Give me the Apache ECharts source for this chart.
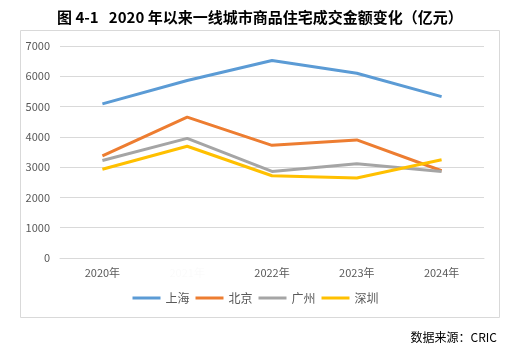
<!DOCTYPE html>
<html>
<head>
<meta charset="utf-8">
<script src="https://cdn.jsdelivr.net/npm/echarts@6/dist/echarts.min.js"></script>
<style>
  html, body { margin: 0; padding: 0; background: #fff; }
  #main { width: 511px; height: 354px; }
</style>
</head>
<body>
<div id="main"></div>
<script>
// 数据
const years = ["2020年", "2021年", "2022年", "2023年", "2024年"];
const shanghai = [5090, 5860, 6520, 6100, 5330];
const beijing = [3370, 4650, 3720, 3900, 2880];
const guangzhou = [3220, 3950, 2860, 3110, 2860];
const shenzhen = [2930, 3690, 2715, 2640, 3245];
const yTicks = [0, 1000, 2000, 3000, 4000, 5000, 6000, 7000];

const chart = echarts.init(document.getElementById("main"));
const font = "'Noto Sans CJK SC', 'Microsoft YaHei', sans-serif";

const mkLine = (name, data, color) => ({
  name,
  type: "line",
  data,
  symbol: "none",
  lineStyle: { width: 3, color },
  itemStyle: { color },
});

chart.setOption({
  animation: false,
  title: {
    text: "图 4-1   2020 年以来一线城市商品住宅成交金额变化（亿元）",
    left: 52,
    top: 5,
    textStyle: { fontFamily: font, fontSize: 15, fontWeight: "bold", color: "#000" },
  },
  graphic: [
    {
      type: "rect",
      shape: { x: 20.5, y: 30.5, width: 479, height: 287 },
      style: { fill: "none", stroke: "#d9d9d9", lineWidth: 1 },
      silent: true,
    },
    {
      type: "text",
      right: 14,
      top: 331,
      style: { text: "数据来源：CRIC", fontFamily: font, fontSize: 12, fill: "#000" },
    },
  ],
  grid: { left: 60, right: 27, top: 46, bottom: 96 },
  legend: {
    bottom: 45,
    left: "center",
    icon: "rect",
    itemWidth: 28,
    itemHeight: 3,
    itemGap: 6,
    textStyle: { fontFamily: font, fontSize: 12, color: "#595959" },
    data: ["上海", "北京", "广州", "深圳"],
  },
  xAxis: {
    type: "category",
    data: years,
    boundaryGap: true,
    axisLine: { lineStyle: { color: "#d9d9d9" } },
    axisTick: { show: false },
    axisLabel: {
      fontFamily: font,
      fontSize: 11,
      margin: 9,
      interval: 0,
      color: (v, i) => (i === 1 ? "#fbfbfb" : "#595959"),
    },
  },
  yAxis: {
    type: "value",
    min: yTicks[0],
    max: yTicks[yTicks.length - 1],
    interval: 1000,
    axisLine: { show: false },
    axisTick: { show: false },
    splitLine: { lineStyle: { color: "#d9d9d9" } },
    axisLabel: {
      fontFamily: font,
      fontSize: 11,
      color: "#595959",
      margin: 10,
      formatter: (v) => String(v),
    },
  },
  series: [
    mkLine("上海", shanghai, "#5B9BD5"),
    mkLine("北京", beijing, "#ED7D31"),
    mkLine("广州", guangzhou, "#A5A5A5"),
    mkLine("深圳", shenzhen, "#FFC000"),
  ],
});
</script>
</body>
</html>
